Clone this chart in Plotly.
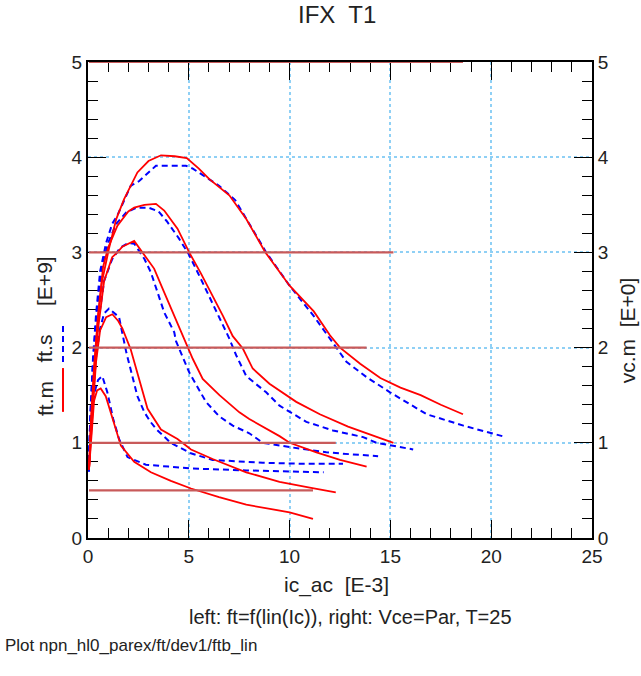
import plotly.graph_objects as go

# ---- data (ic_ac in mA, ft in GHz) ----
vce_values = [5, 3, 2, 1, 0.5]

ic_m_5 = [0.05,0.15,0.3,0.46,0.7,1.04,1.4,1.79,2.45,3.0,3.62,4.3,4.9,5.5,6.02,7.01,7.85,8.8,10.0,11.2,12.0,12.5,13.5,14.5,15.5,16.5,17.5,18.6]
ft_m_5 = [0.72,1.25,1.8,2.23,2.7,3.04,3.35,3.56,3.84,3.96,4.02,4.01,3.99,3.88,3.77,3.6,3.35,3.0,2.65,2.38,2.13,2.0,1.83,1.68,1.58,1.50,1.40,1.30]
ic_s_5 = [0.03,0.12,0.25,0.4,0.6,0.9,1.2,1.46,2.12,2.54,3.37,4.86,5.2,5.69,6.5,7.3,8.0,8.84,10.0,11.2,12.32,12.82,13.82,14.98,16.8,18.62,20.55]
ft_s_5 = [0.7,1.3,1.9,2.35,2.8,3.1,3.3,3.39,3.70,3.75,3.91,3.91,3.88,3.81,3.7,3.55,3.3,3.0,2.65,2.33,2.0,1.85,1.69,1.53,1.30,1.18,1.07]

ic_m_3 = [0.05,0.15,0.3,0.5,0.75,1.0,1.46,2.0,2.29,2.8,3.37,3.78,4.44,5.02,5.6,6.18,6.7,7.18,7.68,8.17,9.0,10.33,11.5,12.9,14.0,15.15]
ft_m_3 = [0.72,1.2,1.7,2.35,2.85,3.05,3.28,3.43,3.47,3.5,3.51,3.44,3.25,3.0,2.78,2.55,2.33,2.12,1.99,1.78,1.62,1.43,1.30,1.17,1.09,1.0]
ic_s_3 = [0.03,0.12,0.25,0.45,0.7,1.0,1.4,1.9,2.4,3.0,3.5,3.9,4.5,5.0,5.6,6.2,7.0,7.35,7.85,8.84,9.5,10.83,12.15,13.65,14.31,16.13]
ft_s_3 = [0.7,1.3,1.85,2.4,2.85,3.1,3.3,3.42,3.47,3.47,3.43,3.33,3.15,2.98,2.72,2.45,2.1,1.92,1.70,1.53,1.39,1.22,1.13,1.06,1.0,0.93]

ic_m_2 = [0.05,0.15,0.3,0.5,0.8,1.2,1.46,1.7,2.29,2.79,3.28,3.78,4.28,4.78,5.2,5.69,6.52,7.51,8.0,9.5,10.0,11.33,12.5,13.82]
ft_m_2 = [0.72,1.15,1.6,2.2,2.7,2.95,3.0,3.06,3.12,2.97,2.83,2.58,2.34,2.09,1.88,1.67,1.50,1.32,1.25,1.07,1.0,0.9,0.82,0.75]
ic_s_2 = [0.03,0.12,0.28,0.5,0.8,1.2,1.6,2.0,2.3,2.8,3.12,3.78,4.28,4.36,5.02,5.85,6.5,7.18,8.0,8.67,10.16,11.82,13.0,14.39]
ft_s_2 = [0.7,1.2,1.7,2.25,2.7,2.93,3.05,3.1,3.09,2.93,2.79,2.37,2.16,2.07,1.74,1.43,1.28,1.18,1.1,1.0,0.95,0.90,0.88,0.86]

ic_m_1 = [0.05,0.12,0.25,0.4,0.6,0.9,1.21,1.5,1.71,2.12,2.62,2.95,3.62,4.44,5.11,6.18,7.85,9.5,11.0,12.29]
ft_m_1 = [0.72,1.0,1.4,1.85,2.18,2.32,2.35,2.28,2.2,1.98,1.60,1.36,1.14,1.04,0.93,0.83,0.69,0.59,0.53,0.48]
ic_s_1 = [0.03,0.1,0.22,0.4,0.6,0.8,1.04,1.54,1.9,2.45,2.8,3.1,3.4,4.1,5.1,6.18,7.5,8.67,10.5,12.65]
ft_s_1 = [0.7,1.0,1.45,1.9,2.2,2.36,2.41,2.32,1.95,1.49,1.32,1.22,1.14,1.0,0.89,0.82,0.80,0.79,0.78,0.78]

ic_m_05 = [0.05,0.12,0.2,0.3,0.45,0.63,0.88,1.21,1.63,2.29,3.12,4.11,5.11,6.5,7.85,10.0,11.16]
ft_m_05 = [0.72,0.95,1.2,1.44,1.55,1.57,1.49,1.25,0.97,0.80,0.69,0.60,0.52,0.43,0.35,0.27,0.20]
ic_s_05 = [0.03,0.1,0.2,0.35,0.5,0.71,0.96,1.25,1.54,1.96,2.87,4.0,5.11,7.85,11.69]
ft_s_05 = [0.7,1.0,1.3,1.55,1.66,1.70,1.53,1.25,1.04,0.85,0.77,0.75,0.73,0.71,0.69]

measured = [(ic_m_5, ft_m_5), (ic_m_3, ft_m_3), (ic_m_2, ft_m_2), (ic_m_1, ft_m_1), (ic_m_05, ft_m_05)]
simulated = [(ic_s_5, ft_s_5), (ic_s_3, ft_s_3), (ic_s_2, ft_s_2), (ic_s_1, ft_s_1), (ic_s_05, ft_s_05)]

x_ticks = [0, 5, 10, 15, 20, 25]
y_ticks = [0, 1, 2, 3, 4, 5]

FONT = "Liberation Sans, Arial, sans-serif"
RED = "#ff0000"
BLUE = "#0000ff"
VC = "#c85a5a"
GRID = "#8fd0f5"
TXT = "#222222"

fig = go.Figure()

# vc.m lines (right axis)
for v, (ic, ft) in zip(vce_values, measured):
    fig.add_trace(go.Scatter(x=[ic[0], ic[-1]], y=[v, v], mode="lines", yaxis="y2",
                             line=dict(color=VC, width=2.2), showlegend=False, hoverinfo="skip"))

for ic, ft in simulated:
    fig.add_trace(go.Scatter(x=ic, y=ft, mode="lines", line=dict(color=BLUE, width=2, dash="6px,4px"),
                             showlegend=False))
for ic, ft in measured:
    fig.add_trace(go.Scatter(x=ic, y=ft, mode="lines", line=dict(color=RED, width=1.8),
                             showlegend=False))

axis_common = dict(showline=True, linecolor="black", linewidth=2, ticks="inside",
                   tickcolor="black", ticklen=18, tickwidth=1, zeroline=False,
                   tickfont=dict(family=FONT, size=19, color=TXT),
                   layer="below traces")

fig.update_layout(
    width=641, height=676,
    margin=dict(l=88, r=49, t=62, b=138),
    paper_bgcolor="white", plot_bgcolor="white",
    showlegend=False,
    xaxis=dict(range=[0, 25], tickvals=x_ticks, mirror="ticks",
               showgrid=True, gridcolor=GRID, griddash="dot", gridwidth=1.5,
               minor=dict(dtick=1, ticklen=10, tickcolor="black", ticks="inside", showgrid=False),
               **axis_common),
    yaxis=dict(range=[0, 5], tickvals=y_ticks,
               showgrid=True, gridcolor=GRID, griddash="dot", gridwidth=1.5,
               minor=dict(dtick=0.2, ticklen=10, tickcolor="black", ticks="inside", showgrid=False),
               **axis_common),
    yaxis2=dict(range=[0, 5], tickvals=y_ticks, overlaying="y", side="right", showgrid=False,
                minor=dict(dtick=0.2, ticklen=10, tickcolor="black", ticks="inside", showgrid=False),
                **axis_common),
)

def note(text, x, y, size, angle=0, xanchor="center"):
    fig.add_annotation(text=text, xref="paper", yref="paper", x=x, y=y, textangle=angle,
                       xanchor=xanchor, yanchor="middle", showarrow=False,
                       font=dict(family=FONT, size=size, color=TXT))

note("IFX  T1", 0.494, 1.099, 24)
note("ic_ac  [E-3]", 0.494, -0.099, 21)
note("left: ft=f(lin(Ic)), right: Vce=Par, T=25", 0.52, -0.166, 20)
note("Plot npn_hl0_parex/ft/dev1/ftb_lin", -0.1687, -0.2248, 17, xanchor="left")
note("ft.m", -0.0853, 0.292, 21, angle=-90)
note("ft.s", -0.0853, 0.398, 21, angle=-90)
note("[E+9]", -0.0853, 0.540, 21, angle=-90)
note("vc.m  [E+0]", 1.072, 0.437, 21, angle=-90)

# legend line samples beside the left axis title
fig.add_shape(type="line", xref="paper", yref="paper", x0=-0.0496, x1=-0.0496, y0=0.370, y1=0.452,
              line=dict(color=BLUE, width=2, dash="6px,4px"))
fig.add_shape(type="line", xref="paper", yref="paper", x0=-0.0496, x1=-0.0496, y0=0.265, y1=0.357,
              line=dict(color=RED, width=2))

fig.write_html("out.html", config={"displayModeBar": False},
               post_script="document.body.style.margin='0';")
